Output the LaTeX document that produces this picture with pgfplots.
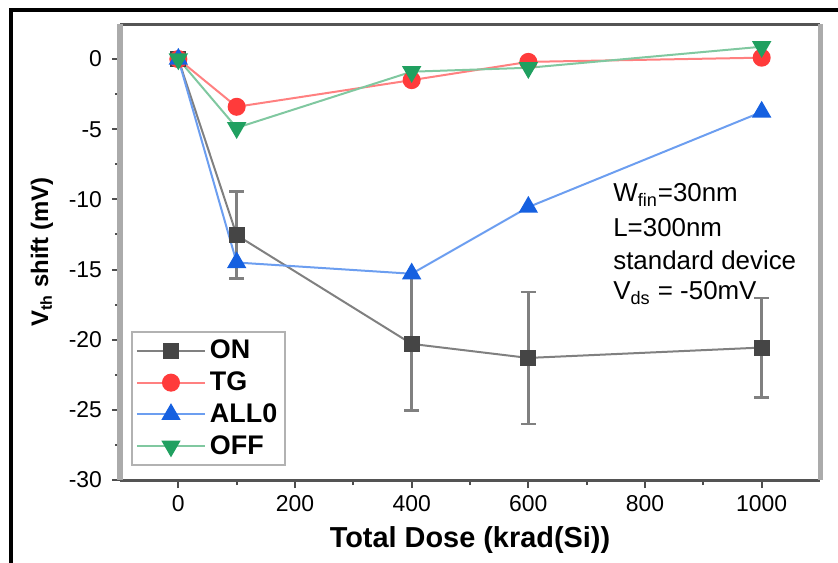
\documentclass[border=0pt]{standalone}
\usepackage{fontspec}
\setmainfont{Liberation Sans}
\usepackage{pgfplots}
\pgfplotsset{compat=1.18}
\definecolor{onmk}{HTML}{454545}
\definecolor{onln}{HTML}{808080}
\definecolor{tgmk}{HTML}{FF3B3B}
\definecolor{tgln}{HTML}{FF8080}
\definecolor{almk}{HTML}{1560E0}
\definecolor{alln}{HTML}{6C9EF0}
\definecolor{ofmk}{HTML}{20A060}
\definecolor{ofln}{HTML}{80C8A0}
\begin{document}
\begin{tikzpicture}
\useasboundingbox (-60bp,-41.5bp) rectangle (359bp,240bp);
\draw[line width=2bp, black] (-54.5bp,-60bp) -- (-54.5bp,234.75bp) -- (380bp,234.75bp);
\begin{axis}[
  at={(0,0)}, anchor=south west,
  scale only axis, width=350bp, height=228bp,
  xmin=-100, xmax=1100, ymin=-30, ymax=2.5,
  axis x line=box, axis y line=box, separate axis lines,
  x axis line style={draw=black!67, line width=1.5bp},
  y axis line style={draw=black!33, line width=2.5bp},
  xtick={0,200,...,1000}, minor x tick num=1,
  ytick={-30,-25,...,0}, minor y tick num=1,
  xtick pos=bottom, ytick pos=left,
  tick align=outside,
  major tick length=4bp, minor tick length=2.5bp,
  every tick/.style={draw=black!70, line width=1bp},
  /pgf/number format/assume math mode=true,
  /pgf/number format/1000 sep={},
  ticklabel style={font=\fontsize{11.5}{13}\selectfont},
  yticklabel style={xshift=-1.5bp},
  xlabel={Total Dose (krad(Si))},
  ylabel={V\textsubscript{th} shift (mV)},
  xlabel style={at={(axis description cs:0.5,-0.1316)}, anchor=center, font=\fontsize{14.5}{16}\selectfont\bfseries},
  ylabel style={at={(axis description cs:-0.1114,0.5)}, anchor=center, font=\fontsize{12}{14}\selectfont\bfseries},
  legend style={at={(0.0157,0.0307)}, anchor=south west, draw=black!30, line width=1bp,
    font=\fontsize{13.5}{15.5}\selectfont\bfseries, inner sep=2bp, row sep=1bp},
  legend cell align=left,
  legend image code/.code={\draw[mark repeat=2,mark phase=2] plot coordinates {(0bp,0bp) (17bp,0bp) (34bp,0bp)};},
]
\addplot[color=onln, line width=1bp, mark=square*, mark size=3.5bp,
  mark options={fill=onmk, draw=onmk, solid},
  error bars/.cd, y dir=both, y explicit,
  error bar style={draw=black!50, line width=1.2bp},
  error mark options={rotate=90, draw=black!50, line width=1.2bp, mark size=3.75bp}]
  coordinates {(0,0) (100,-12.55) +- (0,3.1) (400,-20.3) +- (0,4.75) (600,-21.3) +- (0,4.7) (1000,-20.56) +- (0,3.55)};
\addlegendentry{ON}
\addplot[color=tgln, line width=1bp, mark=*, mark size=4bp,
  mark options={fill=tgmk, draw=tgmk, solid}]
  coordinates {(0,0) (100,-3.4) (400,-1.5) (600,-0.2) (1000,0.1)};
\addlegendentry{TG}
\addplot[color=alln, line width=1bp, mark=triangle*, mark size=4.6bp,
  mark options={fill=almk, draw=almk, solid}]
  coordinates {(0,0) (100,-14.5) (400,-15.3) (600,-10.55) (1000,-3.77)};
\addlegendentry{ALL0}
\addplot[color=ofln, line width=1bp, mark=triangle*, mark size=4.6bp,
  mark options={fill=ofmk, draw=ofmk, solid, rotate=180}]
  coordinates {(0,0) (100,-4.9) (400,-0.9) (600,-0.62) (1000,0.88)};
\addlegendentry{OFF}
\node[anchor=west, inner sep=0pt, font=\fontsize{13}{15}\selectfont] at (axis cs:745,-9.7) {W\textsubscript{fin}=30nm};
\node[anchor=west, inner sep=0pt, font=\fontsize{13}{15}\selectfont] at (axis cs:745,-12.0) {L=300nm};
\node[anchor=west, inner sep=0pt, font=\fontsize{13}{15}\selectfont] at (axis cs:745,-14.35) {standard device};
\node[anchor=west, inner sep=0pt, font=\fontsize{13}{15}\selectfont] at (axis cs:745,-16.7) {V\textsubscript{ds} = -50mV};
\end{axis}
\end{tikzpicture}
\end{document}
